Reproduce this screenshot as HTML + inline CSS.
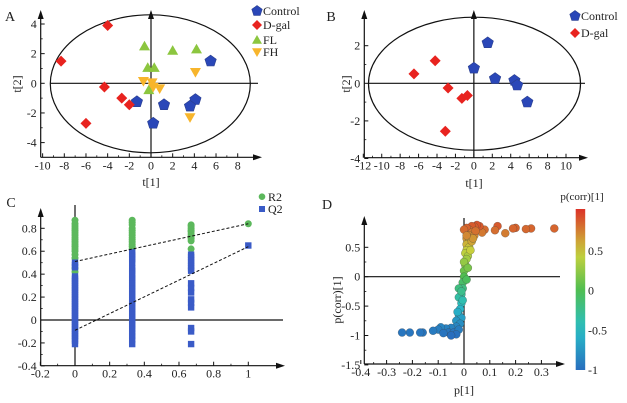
<!DOCTYPE html>
<html><head><meta charset="utf-8"><style>
body{margin:0;background:#fff}
svg{display:block;font-family:"Liberation Serif",serif}
</style></head><body>
<svg id="s" width="627" height="403" viewBox="0 0 627 403"></svg>
<script>
// Panel A data
const aControlX=[5.5,4.1,3.6,1.2,-1.3,0.2], aControlY=[1.5,-1.1,-1.55,-1.45,-1.25,-2.7];
const aDgalX=[-4,-8.3,-4.3,-2.7,-2,-6], aDgalY=[3.9,1.5,-0.25,-1,-1.45,-2.7];
const aFLX=[-0.6,2,4.2,-0.3,0.3,-0.2], aFLY=[2.5,2.2,2.3,1.05,1.05,-0.45];
const aFHX=[-0.7,0.1,0.8,0.2,4.1,3.6], aFHY=[0.15,0.05,-0.35,-0.25,0.75,-2.3];
const aXTicks=[-10,-8,-6,-4,-2,0,2,4,6,8], aYTicks=[-4,-2,0,2,4];
// Panel B data
const bControlX=[1.5,0,2.3,4.4,4.7,5.8], bControlY=[2.15,0.8,0.25,0.15,-0.1,-1];
const bDgalX=[-6.5,-4.2,-2.8,-1.3,-0.7,-3.1], bDgalY=[0.5,1.2,-0.25,-0.8,-0.65,-2.55];
const bXTicks=[-12,-10,-8,-6,-4,-2,0,2,4,6,8,10], bYTicks=[-4,-2,0,2];
// Panel C data (one array per permutation-correlation column)
const cCols=[0,0.33,0.67,1];
const cR2=[
 [0.87,0.84,0.82,0.8,0.78,0.76,0.74,0.72,0.7,0.68,0.66,0.64,0.62,0.6,0.57,0.54,0.45,0.42],
 [0.87,0.85,0.83,0.8,0.78,0.76,0.74,0.72,0.7,0.68,0.66,0.64,0.62],
 [0.83,0.82,0.8,0.78,0.77,0.75,0.73,0.71,0.69,0.62],
 [0.84]];
const cQ2=[
 [0.5,0.48,0.46,0.38,0.36,0.34,0.32,0.3,0.28,0.26,0.24,0.22,0.2,0.18,0.16,0.14,0.12,0.1,0.08,0.06,0.04,0.02,0,-0.02,-0.04,-0.06,-0.08,-0.1,-0.12,-0.14,-0.16,-0.18,-0.21],
 [0.59,0.57,0.55,0.53,0.5,0.45,0.43,0.4,0.37,0.35,0.32,0.3,0.27,0.25,0.22,0.2,0.17,0.15,0.12,0.1,0.07,0.05,0.02,0,-0.03,-0.05,-0.08,-0.11,-0.14,-0.17,-0.21],
 [0.57,0.55,0.52,0.5,0.47,0.45,0.43,0.32,0.28,0.24,0.18,0.15,0.11,-0.07,-0.1,-0.21],
 [0.65]];
const cR2Line=[[0,0.51],[1,0.84]], cQ2Line=[[0,-0.09],[1,0.64]];
const cXTicks=[-0.2,0,0.2,0.4,0.6,0.8,1], cYTicks=[-0.4,-0.2,0,0.2,0.4,0.6,0.8];
// Panel D data
const dP=[0.35,0.26,0.24,0.2,0.19,0.16,0.13,0.12,0.08,0.07,0.06,0.05,0.04,0.03,0.02,0.01,0,0.03,0.02,0.04,0.01,0.02,0.01,0.02,0.01,0.005,0.015,0.01,0.005,0,0,-0.005,-0.005,-0.02,-0.01,-0.02,-0.01,-0.015,-0.02,-0.01,-0.03,-0.015,-0.03,-0.05,-0.07,-0.09,-0.1,-0.06,-0.04,-0.08,-0.12,-0.16,-0.17,-0.21,-0.24,-0.02,-0.03,-0.05,0.03,0.0,0.01,0.025,0.035,0.015,-0.005,-0.025,0.045,0.01,-0.01];
const dCorr=[0.82,0.82,0.81,0.83,0.82,0.74,0.86,0.79,0.8,0.75,0.86,0.88,0.85,0.86,0.8,0.83,0.8,0.75,0.7,0.7,0.65,0.6,0.55,0.5,0.45,0.4,0.35,0.3,0.2,0.1,0,-0.1,-0.2,-0.2,-0.3,-0.35,-0.45,-0.55,-0.65,-0.7,-0.75,-0.8,-0.85,-0.87,-0.88,-0.86,-0.9,-0.95,-0.95,-0.96,-0.92,-0.95,-0.95,-0.95,-0.95,-0.9,-0.98,-1.0,0.6,0.25,-0.05,0.45,0.65,0.15,-0.4,-0.6,0.78,0.7,-0.25];
const dXTicks=[-0.4,-0.3,-0.2,-0.1,0,0.1,0.2,0.3], dYTicks=[-1.5,-1,-0.5,0,0.5];
const cbTicks=[-1,-0.5,0,0.5];

const S=document.getElementById('s');const NS='http://www.w3.org/2000/svg';
function mk(t,a,p){const e=document.createElementNS(NS,t);for(const k in a)e.setAttribute(k,a[k]);(p||S).appendChild(e);return e;}
function lin(d0,d1,r0,r1){return v=>r0+(v-d0)*(r1-r0)/(d1-d0);}
function txt(x,y,s,anchor,size,name,rot){const e=mk('text',{x:x,y:y,'font-size':size||12,'text-anchor':anchor||'middle',fill:'#222'});if(rot)e.setAttribute('transform','rotate(-90 '+x+' '+y+')');e.textContent=s;

return e;}
function ln(x1,y1,x2,y2,w,name,dash){const e=mk('line',{x1:x1,y1:y1,x2:x2,y2:y2,stroke:'#111','stroke-width':w||1.2});if(dash)e.setAttribute('stroke-dasharray',dash);

return e;}
function arrowR(x,y){const e=mk('path',{d:`M${x} ${y} l-9 -3 l0 6z`,fill:'#111'});

}
function arrowU(x,y){const e=mk('path',{d:`M${x} ${y} l-3 9 l6 0z`,fill:'#111'});

}
function axes(sx,sy,xt,yt,xl,xr,yb,yt2,fmt,minorX,minorY){
 ln(xl,yb,xr,yb,1.2,'x-axis');arrowR(xr+2,yb);
 ln(xl,yb,xl,yt2,1.2,'y-axis');arrowU(xl,yt2-2);
 xt.forEach((v,i)=>{const x=sx(v);ln(x,yb,x,yb-4,1,'x-tick');txt(x,yb+12,fmt(v),'middle',12,'x-tick-label');
  if(i<xt.length-1){for(let k=1;k<minorX;k++){const xm=sx(v+(xt[1]-xt[0])*k/minorX);ln(xm,yb,xm,yb-2,0.8,'x-minor-tick');}}});
 yt.forEach((v,i)=>{const y=sy(v);ln(xl,y,xl+4,y,1,'y-tick');txt(xl-4,y+4,fmt(v),'end',12,'y-tick-label');
  if(i<yt.length-1){for(let k=1;k<minorY;k++){const ym=sy(v+(yt[1]-yt[0])*k/minorY);ln(xl,ym,xl+2,ym,0.8,'y-minor-tick');}}});
}
function pent(cx,cy,r,fill,name){let d='';for(let i=0;i<5;i++){const a=-Math.PI/2+i*2*Math.PI/5;d+=(i?'L':'M')+(cx+r*Math.cos(a)).toFixed(1)+' '+(cy+r*Math.sin(a)).toFixed(1);}
const e=mk('path',{d:d+'Z',fill:fill,stroke:'#2a3f8f','stroke-width':0.6});

}
function diam(cx,cy,r,name){const e=mk('path',{d:`M${cx} ${cy-r}L${cx+r} ${cy}L${cx} ${cy+r}L${cx-r} ${cy}Z`,fill:'#e8231f'});

}
function tri(cx,cy,r,up,fill,name){const d=up?`M${cx} ${cy-r}L${cx+r} ${cy+r*0.75}L${cx-r} ${cy+r*0.75}Z`:`M${cx} ${cy+r}L${cx+r} ${cy-r*0.75}L${cx-r} ${cy-r*0.75}Z`;
const e=mk('path',{d:d,fill:fill});

}
const f0=v=>String(Math.round(v*10)/10);

// ---- Panel A ----
{const sx=lin(0,8,151,237.7),sy=lin(0,4,83.3,24);
 txt(10,21,'A','middle',14,'panel-a-label');
 axes(sx,sy,aXTicks,aYTicks,40.7,260,157.3,12,f0,2,2);
 const el=mk('ellipse',{cx:150.3,cy:83.8,rx:100,ry:69,fill:'none',stroke:'#111','stroke-width':1.2});
 
 
 ln(50,sy(0),258,sy(0),1.2,'zero-line-h');ln(sx(0),12,sx(0),157.3,1.2,'zero-line-v');
 arrowU(sx(0),10);
 aFLX.forEach((v,i)=>tri(sx(v),sy(aFLY[i]),5.5,true,'#8cc63f','fl-point'));
 aFHX.forEach((v,i)=>tri(sx(v),sy(aFHY[i]),5.5,false,'#f7b52c','fh-point'));
 aControlX.forEach((v,i)=>pent(sx(v),sy(aControlY[i]),6,'#2a47b8','control-point'));
 aDgalX.forEach((v,i)=>diam(sx(v),sy(aDgalY[i]),5.5,'dgal-point'));
 txt(151,186,'t[1]','middle',12,'x-axis-title-a');txt(21,84,'t[2]','middle',12,'y-axis-title-a',true);
 pent(257,11,5.5,'#2a47b8','legend-control-marker');txt(263,15,'Control','start',12,'legend-control');
 diam(257,25,5,'legend-dgal-marker');txt(263,29,'D-gal','start',12,'legend-dgal');
 tri(257,40,5,true,'#8cc63f','legend-fl-marker');txt(263,44,'FL','start',12,'legend-fl');
 tri(257,52,5,false,'#f7b52c','legend-fh-marker');txt(263,56,'FH','start',12,'legend-fh');
}
// ---- Panel B ----
{const sx=lin(-12,10,363.3,566),sy=lin(0,2,83.3,45.7);
 txt(331,21,'B','middle',14,'panel-b-label');
 axes(sx,sy,bXTicks,bYTicks,364.3,586,157.7,12,f0,2,2);
 const el=mk('ellipse',{cx:474.5,cy:83.7,rx:106,ry:66.5,fill:'none',stroke:'#111','stroke-width':1.2});
 
 
 ln(368,sy(0),585,sy(0),1.2,'zero-line-h');ln(sx(0),12,sx(0),157.7,1.2,'zero-line-v');
 arrowU(sx(0),10);
 bControlX.forEach((v,i)=>pent(sx(v),sy(bControlY[i]),6,'#2a47b8','control-point'));
 bDgalX.forEach((v,i)=>diam(sx(v),sy(bDgalY[i]),5.5,'dgal-point'));
 txt(474,187,'t[1]','middle',12,'x-axis-title-b');txt(350,84,'t[2]','middle',12,'y-axis-title-b',true);
 pent(575,16,5.5,'#2a47b8','legend-control-marker');txt(581,20,'Control','start',12,'legend-control');
 diam(575,33,5,'legend-dgal-marker');txt(581,37,'D-gal','start',12,'legend-dgal');
}
// ---- Panel C ----
{const sx=lin(0,1,75,248.3),sy=lin(0,0.8,320,228.3);
 txt(11,207,'C','middle',14,'panel-c-label');
 axes(sx,sy,cXTicks,cYTicks,40.7,283,365.7,210,f0,2,2);
 ln(40.7,sy(0),283,sy(0),1.2,'zero-line-h');ln(sx(0),205,sx(0),365.7,1.2,'zero-line-v');
 cCols.forEach((c,ci)=>cR2[ci].forEach(v=>{const e=mk('circle',{cx:sx(c),cy:sy(v),r:3.5,fill:'#5cb85c'});
  
  }));
 cCols.forEach((c,ci)=>cQ2[ci].forEach(v=>{const e=mk('rect',{x:sx(c)-3.2,y:sy(v)-3.2,width:6.4,height:6.4,fill:'#3a5bc7'});
  
  }));
 ln(sx(cR2Line[0][0]),sy(cR2Line[0][1]),sx(cR2Line[1][0]),sy(cR2Line[1][1]),1,'r2-regression-line','3,2');
 ln(sx(cQ2Line[0][0]),sy(cQ2Line[0][1]),sx(cQ2Line[1][0]),sy(cQ2Line[1][1]),1,'q2-regression-line','3,2');
 let e=mk('circle',{cx:262,cy:196.7,r:3.3,fill:'#5cb85c'});
 
 txt(268,201,'R2','start',12,'legend-r2');
 e=mk('rect',{x:259,y:206,width:6,height:6,fill:'#3a5bc7'});
 
 txt(268,213,'Q2','start',12,'legend-q2');
}
// ---- Panel D ----
function jet(t){t=Math.max(0,Math.min(1,t));const stops=[[0,[40,110,190]],[0.25,[40,190,200]],[0.5,[80,190,80]],[0.72,[200,210,60]],[1,[220,50,40]]];
 for(let i=1;i<stops.length;i++){if(t<=stops[i][0]){const a=stops[i-1],b=stops[i],u=(t-a[0])/(b[0]-a[0]);return 'rgb('+a[1].map((c,j)=>Math.round(c+(b[1][j]-c)*u)).join(',')+')';}}return 'rgb(220,50,40)';}
{const sx=lin(0,0.1,464,489.8),sy=lin(0,0.5,276.7,247.3);
 txt(327,209,'D','middle',14,'panel-d-label');
 axes(sx,sy,dXTicks,dYTicks,364.3,563,364,218,f0,2,2);
 ln(364.3,sy(0),560,sy(0),1.2,'zero-line-h');ln(sx(0),218,sx(0),364,1.2,'zero-line-v');
 const defs=mk('defs',{});const g=mk('linearGradient',{id:'cb',x1:0,y1:1,x2:0,y2:0},defs);
 for(let i=0;i<=10;i++)mk('stop',{offset:i/10,'stop-color':jet(i/10)},g);
 dP.forEach((v,i)=>{const e=mk('circle',{cx:sx(v),cy:sy(dCorr[i]),r:4,fill:jet((dCorr[i]+1)/2),stroke:'rgba(60,60,60,0.5)','stroke-width':0.5});
  
  });
 txt(464,394,'p[1]','middle',12,'x-axis-title-d');txt(341,300,'p(corr)[1]','middle',12,'y-axis-title-d',true);
 const cbY=lin(-1,0.5,370,251);
 const r=mk('rect',{x:575.7,y:209,width:9.5,height:161,fill:'url(#cb)'});
 
 cbTicks.forEach(v=>txt(588,cbY(v)+4,f0(v),'start',12,'colorbar-tick-label'));
 txt(582,200,'p(corr)[1]','middle',11,'colorbar-title');
}
</script>
</body></html>
